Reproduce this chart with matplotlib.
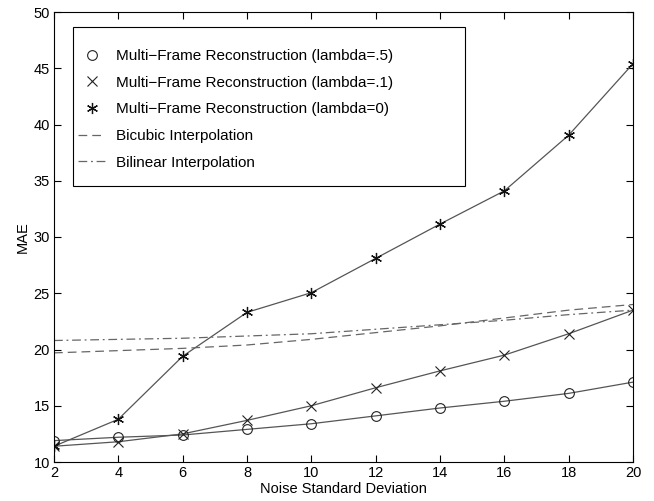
import matplotlib.pyplot as plt
from matplotlib.patches import Rectangle

plt.rcParams['font.family'] = ['Liberation Sans', 'DejaVu Sans']

# noise standard deviation
noise_sd = [2, 4, 6, 8, 10, 12, 14, 16, 18, 20]

# MAE values
mf_lambda_05 = [11.9, 12.2, 12.4, 12.9, 13.4, 14.1, 14.8, 15.4, 16.1, 17.1]
mf_lambda_01 = [11.4, 11.8, 12.5, 13.7, 15.0, 16.6, 18.1, 19.5, 21.4, 23.5]
mf_lambda_0 = [11.4, 13.8, 19.4, 23.3, 25.05, 28.1, 31.15, 34.1, 39.05, 45.4]
bicubic = [19.7, 19.9, 20.1, 20.4, 20.9, 21.5, 22.1, 22.8, 23.5, 24.0]
bilinear = [20.8, 20.9, 21.0, 21.2, 21.4, 21.8, 22.2, 22.6, 23.1, 23.5]

labels = ["Multi\u2212Frame Reconstruction (lambda=.5)",
          "Multi\u2212Frame Reconstruction (lambda=.1)",
          "Multi\u2212Frame Reconstruction (lambda=0)",
          "Bicubic Interpolation",
          "Bilinear Interpolation"]

fig = plt.figure(figsize=(6.54, 5.01), dpi=100)
ax = fig.add_axes([54/654, 39/501, 579/654, 450/501])

line_col = "#555555"
# connecting lines (no legend entry), markers drawn on top with the labels
for ys in (mf_lambda_05, mf_lambda_01, mf_lambda_0):
    ax.plot(noise_sd, ys, "-", color=line_col, lw=0.9)
ax.plot(noise_sd, mf_lambda_05, ls="none", marker="o", ms=7,
        mfc="none", mec="#222222", mew=0.8, label=labels[0])
ax.plot(noise_sd, mf_lambda_01, ls="none", marker="x", ms=7,
        mec="#222222", mew=0.8, label=labels[1])
ax.plot(noise_sd, mf_lambda_0, ls="none", marker=(6, 2, 0), ms=8,
        mec="#111111", mew=0.9, label=labels[2])
ax.plot(noise_sd, bicubic, color="#666666", lw=0.9, dashes=(7, 4), label=labels[3])
ax.plot(noise_sd, bilinear, color="#666666", lw=0.9, dashes=(7, 3, 1.5, 3), label=labels[4])

ax.set_xlim(2, 20)
ax.set_ylim(10, 50)
ax.set_xticks(range(2, 21, 2))
ax.set_yticks(range(10, 51, 5))
ax.tick_params(direction="in", top=True, right=True, length=5, width=0.8,
               labelsize=10.5, pad=3)
for s in ax.spines.values():
    s.set_linewidth(0.8)

ax.set_xlabel("Noise Standard Deviation", fontsize=10.5, labelpad=1)
ax.set_ylabel("MAE", fontsize=10.5, labelpad=3)

# legend box drawn separately to match its wide frame
x0 = (73 - 54) / 579
y1 = (462 - 27) / 450
y0 = (462 - 186) / 450
x1 = (465 - 54) / 579
ax.add_patch(Rectangle((x0, y0), x1 - x0, y1 - y0, transform=ax.transAxes,
                       fill=True, facecolor="white", edgecolor="black", lw=0.8,
                       zorder=4))
leg = ax.legend(loc="upper left", bbox_to_anchor=(x0, y1 - 0.037),
                frameon=False, fontsize=11, handlelength=1.75,
                handletextpad=0.7, labelspacing=0.83, borderaxespad=0,
                borderpad=0.35)
leg.set_zorder(5)

fig.savefig("out.png", dpi=100)
